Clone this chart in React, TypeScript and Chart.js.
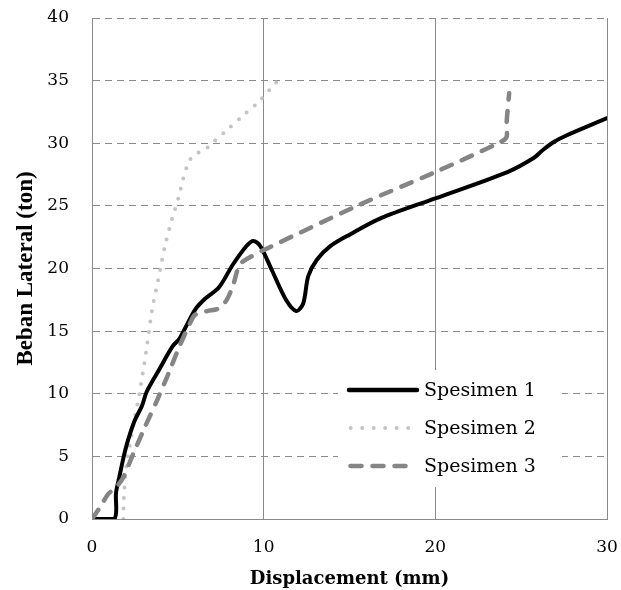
import React, { useEffect, useRef } from "react";
import { Chart, registerables } from "chart.js";

Chart.register(...registerables);

// ---- data ----
const seriesNames = ["Spesimen 1", "Spesimen 2", "Spesimen 3"];

const spesimen1X = [0, 1.3, 1.4, 1.6, 1.85, 2.1, 2.5, 2.9, 3.2, 3.9, 4.7, 5.1, 6.0, 6.6, 7.4, 8.2, 9.0, 9.4, 9.8, 10.5, 11.3, 11.9, 12.3, 12.6, 13.1, 13.9, 15.0, 16.8, 20.0, 24.2, 25.7, 26.3, 26.9, 27.6, 30.0];
const spesimen1Y = [0, 0, 2.1, 3.4, 5.0, 6.3, 7.9, 9.0, 10.2, 11.9, 13.8, 14.4, 16.7, 17.6, 18.5, 20.3, 21.8, 22.2, 21.8, 19.8, 17.5, 16.6, 17.2, 19.4, 20.7, 21.8, 22.7, 24.0, 25.6, 27.7, 28.8, 29.5, 30.1, 30.6, 32.0];

const spesimen2X = [1.83, 1.85, 2.0, 2.4, 2.8, 3.2, 3.5, 3.9, 4.25, 4.65, 5.03, 5.3, 5.6, 5.95, 6.5, 7.0, 7.9, 8.8, 9.7, 10.5, 10.9];
const spesimen2Y = [0, 1.5, 4.2, 7.4, 10.3, 13.8, 16.7, 19.4, 21.8, 23.9, 25.6, 27.1, 28.4, 29.1, 29.4, 30.0, 31.1, 32.2, 33.3, 34.5, 35.1];

const spesimen3X = [0, 0.45, 0.95, 1.45, 1.85, 2.4, 3.1, 3.8, 4.45, 5.1, 5.7, 6.0, 6.7, 7.35, 7.85, 8.25, 8.6, 9.2, 10.2, 15.6, 20.0, 23.8, 24.15, 24.15, 24.3];
const spesimen3Y = [0, 0.9, 2.0, 2.6, 3.4, 5.2, 7.4, 9.5, 11.6, 13.8, 15.6, 16.3, 16.6, 16.8, 17.5, 18.8, 20.3, 20.9, 21.6, 25.1, 27.7, 30.1, 30.5, 31.6, 34.0];

const xMin = 0, xMax = 30, xStep = 10;
const yMin = 0, yMax = 40, yStep = 5;

const xTitle = "Displacement (mm)";
const yTitle = "Beban Lateral (ton)";

function toPoints(xs: number[], ys: number[]) {
  return xs.map((x, i) => ({ x, y: ys[i] }));
}

const GRID = "#8a8a8a";

const insideLegend = {
  id: "insideLegend",
  afterDatasetsDraw(chart: any) {
    const ctx: CanvasRenderingContext2D = chart.ctx;
    const boxL = 338, boxT = 370, boxR = 562, boxB = 487;
    ctx.save();
    ctx.fillStyle = "#ffffff";
    ctx.fillRect(boxL, boxT, boxR - boxL, boxB - boxT);
    chart.data.datasets.forEach((ds: any, i: number) => {
      const y = 390 + i * 38;
      ctx.save();
      ctx.beginPath();
      ctx.strokeStyle = ds.borderColor;
      ctx.lineWidth = ds.legendWidth || ds.borderWidth;
      ctx.lineCap = ds.borderCapStyle || "butt";
      ctx.setLineDash(ds.legendDash || ds.borderDash || []);
      ctx.moveTo(ds.legendStart, y);
      ctx.lineTo(ds.legendEnd, y);
      ctx.stroke();
      ctx.restore();
      ctx.fillStyle = "#000000";
      ctx.font = '19px "DejaVu Serif"';
      ctx.textBaseline = "middle";
      ctx.textAlign = "left";
      ctx.fillText(ds.label, 424, y + 1);
    });
    ctx.restore();
  },
};

export default function App() {
  const canvasRef = useRef<HTMLCanvasElement | null>(null);

  useEffect(() => {
    if (!canvasRef.current) return;
    const chart = new Chart(canvasRef.current, {
      type: "line",
      data: {
        datasets: [
          {
            label: seriesNames[0],
            data: toPoints(spesimen1X, spesimen1Y),
            borderColor: "#000000",
            borderWidth: 4,
            borderCapStyle: "round",
            borderJoinStyle: "round",
            pointRadius: 0,
            tension: 0.3,
            order: 1,
            legendStart: 349,
            legendEnd: 417,
            legendWidth: 4.5,
          } as any,
          {
            label: seriesNames[1],
            data: toPoints(spesimen2X, spesimen2Y),
            borderColor: "#c4c4c4",
            borderWidth: 4,
            borderCapStyle: "round",
            borderDash: [0, 10.5],
            legendDash: [0, 11.5],
            pointRadius: 0,
            tension: 0.3,
            order: 2,
            legendStart: 350.7,
            legendEnd: 410,
          } as any,
          {
            label: seriesNames[2],
            data: toPoints(spesimen3X, spesimen3Y),
            borderColor: "#858585",
            borderWidth: 4.5,
            borderCapStyle: "round",
            borderDash: [11, 11],
            pointRadius: 0,
            tension: 0.3,
            order: 0,
            legendStart: 350.5,
            legendEnd: 410,
          } as any,
        ],
      },
      options: {
        animation: false,
        responsive: false,
        maintainAspectRatio: false,
        devicePixelRatio: 1,
        layout: { autoPadding: false, padding: { top: 18, right: 14, left: 0, bottom: 0 } },
        plugins: {
          legend: { display: false },
          tooltip: { enabled: false },
        },
        scales: {
          x: {
            type: "linear",
            min: xMin,
            max: xMax,
            ticks: {
              stepSize: xStep,
              padding: 2,
              color: "#000000",
              font: { family: '"DejaVu Serif"', size: 17 },
            },
            grid: { color: GRID, lineWidth: 1, drawTicks: true, tickLength: 16, tickColor: "rgba(0,0,0,0)" },
            border: { display: true, color: GRID, width: 1 },
            title: {
              display: true,
              text: xTitle,
              color: "#000000",
              font: { family: '"DejaVu Serif"', size: 18, weight: "bold" },
              padding: { top: 0, bottom: 0 },
            },
            afterFit: (scale: any) => {
              scale.height = 71;
            },
          },
          y: {
            type: "linear",
            min: yMin,
            max: yMax,
            ticks: {
              stepSize: yStep,
              padding: 3,
              color: "#000000",
              font: { family: '"DejaVu Serif"', size: 17 },
            },
            grid: { color: GRID, lineWidth: 1, drawTicks: true, tickLength: 20, tickColor: "rgba(0,0,0,0)" },
            border: { display: true, color: GRID, width: 1, dash: [7, 5] },
            title: {
              display: true,
              text: yTitle,
              color: "#000000",
              font: { family: '"Liberation Serif"', size: 23, weight: "bold" },
              padding: { top: 12, bottom: 0 },
            },
            afterFit: (scale: any) => {
              scale.width = 92;
            },
          },
        },
      } as any,
      plugins: [insideLegend],
    });
    return () => chart.destroy();
  }, []);

  return (
    <div style={{ position: "absolute", left: 0, top: 0, width: 621, height: 590, background: "#ffffff" }}>
      <canvas ref={canvasRef} width={621} height={590} style={{ display: "block" }} />
    </div>
  );
}
